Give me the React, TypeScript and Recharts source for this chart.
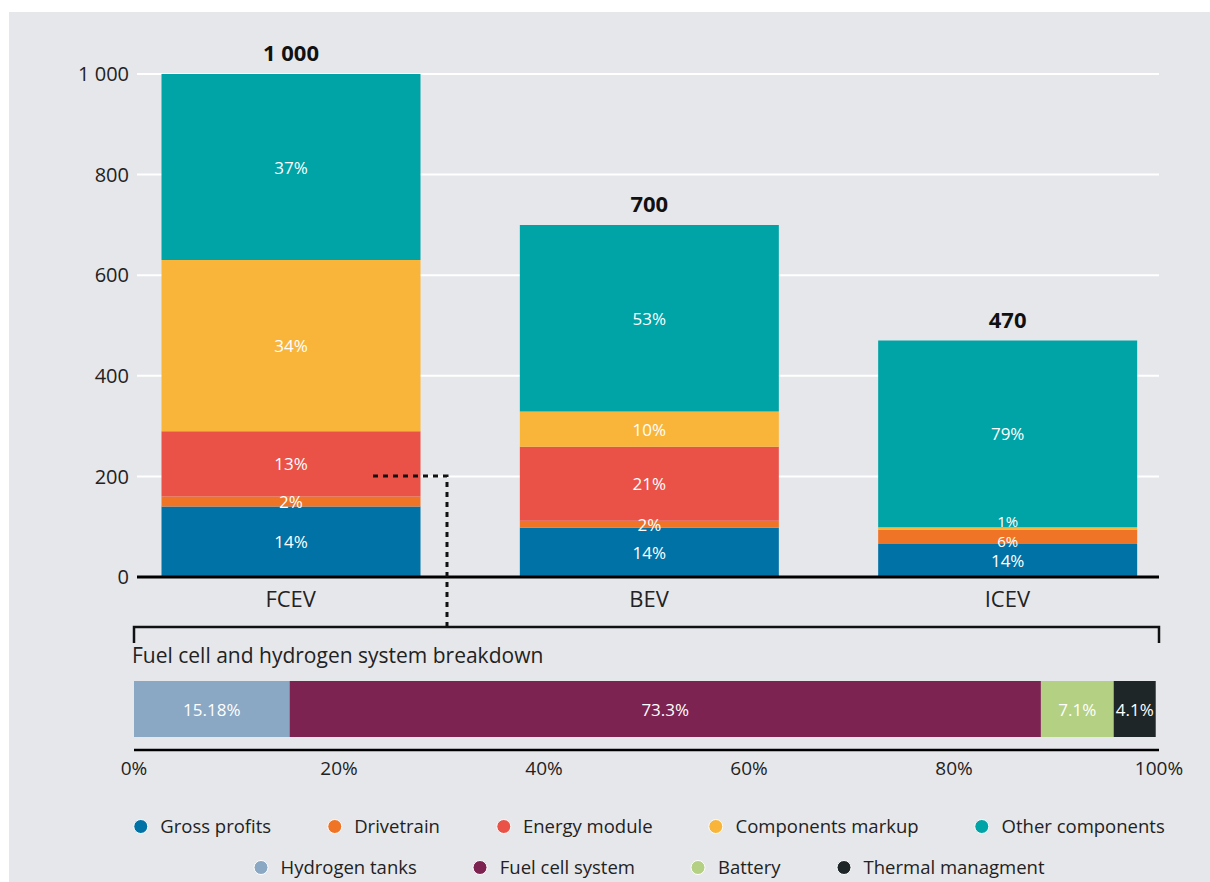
import React from 'react';
import { BarChart, Bar, XAxis, YAxis, CartesianGrid, LabelList } from 'recharts';

const categories = ['FCEV', 'BEV', 'ICEV'];
const totals = [1000, 700, 470];
const grossProfitsPct = [14, 14, 14];
const drivetrainPct = [2, 2, 6];
const energyModulePct = [13, 21, 0];
const componentsMarkupPct = [34, 10, 1];
const otherComponentsPct = [37, 53, 79];
const yTicks = [0, 200, 400, 600, 800, 1000];

const hydrogenTanks = [15.18];
const fuelCellSystem = [73.3];
const battery = [7.1];
const thermalManagment = [4.1];
const pctTicks = [0, 20, 40, 60, 80, 100];

const COLORS = {
  gross: '#0072a6',
  drive: '#ef7426',
  energy: '#ea5248',
  markup: '#f9b539',
  other: '#00a3a6',
  tanks: '#8aa7c4',
  fuel: '#7d2352',
  battery: '#b3d083',
  thermal: '#1f2628',
};

const FONT = '"Open Sans", Lato, sans-serif';
const TEXT = '#222';

const topData = categories.map((name, i) => ({
  name,
  total: totals[i],
  gross: (totals[i] * grossProfitsPct[i]) / 100,
  drive: (totals[i] * drivetrainPct[i]) / 100,
  energy: (totals[i] * energyModulePct[i]) / 100,
  markup: (totals[i] * componentsMarkupPct[i]) / 100,
  other: (totals[i] * otherComponentsPct[i]) / 100,
  grossPct: grossProfitsPct[i],
  drivePct: drivetrainPct[i],
  energyPct: energyModulePct[i],
  markupPct: componentsMarkupPct[i],
  otherPct: otherComponentsPct[i],
}));

const bottomData = [
  {
    name: 'system',
    tanks: hydrogenTanks[0],
    fuel: fuelCellSystem[0],
    battery: battery[0],
    thermal: thermalManagment[0],
  },
];

const fmtThousands = (v: number) => (v >= 1000 ? `${Math.floor(v / 1000)} ${String(v % 1000).padStart(3, '0')}` : String(v));

// markup slice is a sliver in this row -> its label and the drivetrain one get squeezed
const crowded = (i: number) => !!topData[i] && topData[i].markup < 10;

const makePctLabel = (nudge?: (index: number) => number) => (props: any) => {
  const { x, y, width, height, value, index } = props;
  if (!value) return null;
  const thin = Math.abs(height) < 6;
  let dy = thin ? -8 : 0;
  const extra = nudge ? nudge(index) : 0;
  dy += extra;
  const small = thin || extra !== 0;
  return (
    <text
      x={x + width / 2}
      y={y + height / 2 + dy}
      fill="#fff"
      fontSize={small ? 15 : 17}
      fontWeight={500}
      textAnchor="middle"
      dominantBaseline="central"
    >
      {value}%
    </text>
  );
};

const pctLabel = makePctLabel();
const driveLabel = makePctLabel((i) => (crowded(i) ? 4 : 0));

const totalLabel = (props: any) => {
  const { x, y, width, value } = props;
  return (
    <text x={x + width / 2} y={y - 13} fill="#111" fontSize={22} fontWeight={700} textAnchor="middle">
      {fmtThousands(value)}
    </text>
  );
};

const legendRow1 = [
  { label: 'Gross profits', color: COLORS.gross },
  { label: 'Drivetrain', color: COLORS.drive },
  { label: 'Energy module', color: COLORS.energy },
  { label: 'Components markup', color: COLORS.markup },
  { label: 'Other components', color: COLORS.other },
];
const legendRow2 = [
  { label: 'Hydrogen tanks', color: COLORS.tanks },
  { label: 'Fuel cell system', color: COLORS.fuel },
  { label: 'Battery', color: COLORS.battery },
  { label: 'Thermal managment', color: COLORS.thermal },
];

const LegendRow = ({ items, top }: { items: { label: string; color: string }[]; top: number }) => (
  <div
    style={{
      position: 'absolute',
      top,
      left: 641,
      transform: 'translateX(-50%)',
      height: 26,
      display: 'flex',
      alignItems: 'center',
      whiteSpace: 'nowrap',
      fontSize: 18.5,
      lineHeight: '26px',
      color: TEXT,
    }}
  >
    {items.map((it, i) => (
      <div key={it.label} style={{ display: 'flex', alignItems: 'center', marginLeft: i === 0 ? 0 : 56 }}>
        <span
          style={{
            width: 13,
            height: 13,
            borderRadius: '50%',
            background: it.color,
            border: '1px solid #fff',
            marginRight: 12,
          }}
        />
        <span>{it.label}</span>
      </div>
    ))}
  </div>
);

const App: React.FC = () => {
  return (
    <div style={{ position: 'fixed', left: 8, top: 8, width: 1202, height: 874, fontFamily: FONT }}>
      <div style={{ position: 'absolute', left: 1, top: 4, width: 1201, height: 870, background: '#e6e7eb' }} />

      <div style={{ position: 'absolute', left: 0, top: 0 }}>
        <BarChart
          width={1202}
          height={620}
          data={topData}
          margin={{ top: 66, right: 51, bottom: 21, left: 69 }}
        >
          <CartesianGrid vertical={false} stroke="#fff" strokeWidth={2} />
          <XAxis
            dataKey="name"
            height={30}
            padding={{ left: -25.5, right: -27.5 }}
            axisLine={{ stroke: '#000', strokeWidth: 3 }}
            tickLine={false}
            tickMargin={8}
            tick={{ fill: TEXT, fontSize: 22 }}
          />
          <YAxis
            width={60}
            domain={[0, 1000]}
            ticks={yTicks}
            axisLine={false}
            tickLine={false}
            tickFormatter={fmtThousands}
            tick={{ fill: TEXT, fontSize: 20 }}
          />
          <Bar dataKey="gross" stackId="a" fill={COLORS.gross} barSize={259} isAnimationActive={false}>
            <LabelList dataKey="grossPct" content={pctLabel} />
          </Bar>
          <Bar dataKey="drive" stackId="a" fill={COLORS.drive} barSize={259} isAnimationActive={false}>
            <LabelList dataKey="drivePct" content={driveLabel} />
          </Bar>
          <Bar dataKey="energy" stackId="a" fill={COLORS.energy} barSize={259} isAnimationActive={false}>
            <LabelList dataKey="energyPct" content={pctLabel} />
          </Bar>
          <Bar dataKey="markup" stackId="a" fill={COLORS.markup} barSize={259} isAnimationActive={false}>
            <LabelList dataKey="markupPct" content={pctLabel} />
          </Bar>
          <Bar dataKey="other" stackId="a" fill={COLORS.other} barSize={259} isAnimationActive={false}>
            <LabelList dataKey="otherPct" content={pctLabel} />
            <LabelList dataKey="total" content={totalLabel} />
          </Bar>
        </BarChart>
      </div>

      <div style={{ position: 'absolute', left: 0, top: 640 }}>
        <BarChart
          width={1202}
          height={150}
          layout="vertical"
          data={bottomData}
          barCategoryGap={0}
          margin={{ top: 33, right: 51, bottom: 18, left: 126 }}
        >
          <XAxis
            type="number"
            domain={[0, 100]}
            ticks={pctTicks}
            height={30}
            axisLine={{ stroke: '#000', strokeWidth: 2.5 }}
            tickLine={false}
            tickMargin={6}
            tickFormatter={(v: number) => `${v}%`}
            tick={{ fill: TEXT, fontSize: 19 }}
          />
          <YAxis type="category" dataKey="name" hide padding={{ top: 0, bottom: 13 }} />
          <Bar dataKey="tanks" stackId="b" fill={COLORS.tanks} isAnimationActive={false}>
            <LabelList dataKey="tanks" content={pctLabel} />
          </Bar>
          <Bar dataKey="fuel" stackId="b" fill={COLORS.fuel} isAnimationActive={false}>
            <LabelList dataKey="fuel" content={pctLabel} />
          </Bar>
          <Bar dataKey="battery" stackId="b" fill={COLORS.battery} isAnimationActive={false}>
            <LabelList dataKey="battery" content={pctLabel} />
          </Bar>
          <Bar dataKey="thermal" stackId="b" fill={COLORS.thermal} isAnimationActive={false}>
            <LabelList dataKey="thermal" content={pctLabel} />
          </Bar>
        </BarChart>
      </div>

      <svg
        width={1202}
        height={874}
        style={{ position: 'absolute', left: 0, top: 0, pointerEvents: 'none' }}
      >
        <path d="M365 468 H439 V619" fill="none" stroke="#111" strokeWidth={3} strokeDasharray="5 5" />
        <path d="M126 635 V619 H1151 V635" fill="none" stroke="#111" strokeWidth={2.5} />
        <text x={124} y={655} fill={TEXT} fontSize={21}>
          Fuel cell and hydrogen system breakdown
        </text>
      </svg>

      <LegendRow items={legendRow1} top={805} />
      <LegendRow items={legendRow2} top={846} />
    </div>
  );
};

export default App;
